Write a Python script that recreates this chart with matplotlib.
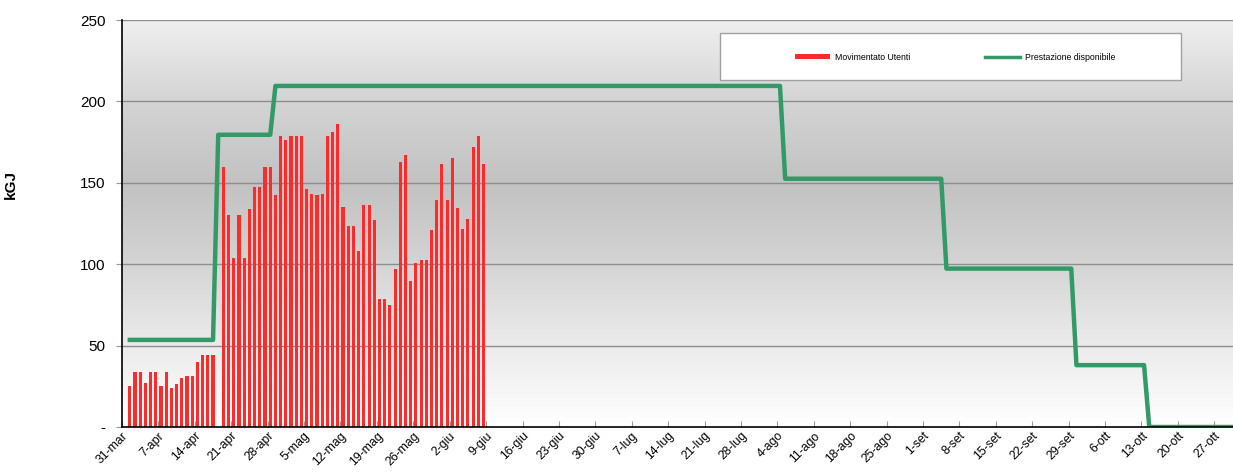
import matplotlib
matplotlib.use("Agg")
import matplotlib.pyplot as plt
from matplotlib.colors import LinearSegmentedColormap
from matplotlib.patches import Patch, Rectangle
from matplotlib.lines import Line2D
import numpy as np

plt.rcParams['font.family'] = ['Liberation Sans', 'DejaVu Sans']

# days counted from 31-mar (day 0)
week_labels = ['31-mar', '7-apr', '14-apr', '21-apr', '28-apr', '5-mag', '12-mag',
               '19-mag', '26-mag', '2-giu', '9-giu', '16-giu', '23-giu', '30-giu',
               '7-lug', '14-lug', '21-lug', '28-lug', '4-ago', '11-ago', '18-ago',
               '25-ago', '1-set', '8-set', '15-set', '22-set', '29-set', '6-ott',
               '13-ott', '20-ott', '27-ott']

# daily "Movimentato Utenti" from 1-apr (day 1) to 8-giu (day 69)
movimentato = [25, 34, 34, 27, 34, 34, 25, 34, 24, 26.5,
               30, 31.5, 31.5, 40, 44, 44, 44, 0, 160, 130,
               104, 130, 104, 134, 147.5, 147.5, 160, 160, 142.5, 178.5,
               176.5, 178.5, 178.5, 178.5, 146, 143, 142.5, 143, 179, 181.5,
               186, 135, 123.5, 123.5, 108, 136.5, 136.5, 127, 78.5, 78.5,
               75, 97, 163, 167, 89.5, 101, 102.5, 102.5, 121, 139.5,
               161.5, 139.5, 165.5, 134.5, 121.5, 128, 172, 179, 161.5]

# "Prestazione disponibile": first day of each level and its value
step_start = [1, 18, 29, 127, 158, 183, 197]
step_value = [53.5, 179.5, 209.5, 152.5, 97.3, 38, 0]
last_day = 213

bar_days = np.arange(1, len(movimentato) + 1)
step_ends = step_start[1:] + [last_day + 1]
prest = np.repeat(step_value, np.diff([step_start[0]] + step_ends))
prest_days = np.arange(step_start[0], last_day + 1)

fig = plt.figure(figsize=(12.33, 4.73), dpi=100)
ax = fig.add_axes([122 / 1233, 1 - 427 / 473, 1 - 122 / 1233, 407 / 473])

xmax = 213.6
# plot area gradient
cmap = LinearSegmentedColormap.from_list('bg', [
    (0.0, '#ffffff'), (0.2, '#ebebeb'), (0.45, '#cfcfcf'),
    (0.6, '#c2c2c2'), (0.8, '#d4d4d4'), (1.0, '#f0f0f0')])
grad = np.linspace(0, 1, 256).reshape(-1, 1)
ax.imshow(grad, cmap=cmap, aspect='auto', origin='lower',
          extent=[0, xmax, 0, 250], zorder=0)

for yv in [50, 100, 150, 200, 250]:
    ax.axhline(yv, color='#8e8e8e', lw=1, zorder=1)

ax.bar(bar_days + 0.5, movimentato, width=0.6, color='#ff2a2a', zorder=2)
ax.plot(prest_days + 0.5, prest, color='#339966', lw=3.2, zorder=3,
        solid_capstyle='projecting')

ax.set_xlim(0, xmax)
ax.set_ylim(0, 250)
ax.set_yticks([0, 50, 100, 150, 200, 250])
ax.set_yticklabels(['-', '50', '100', '150', '200', '250'], fontsize=11)
ax.set_xticks(np.arange(len(week_labels)) * 7)
ax.set_xticklabels(week_labels, rotation=45, ha='right', va='top',
                   rotation_mode='anchor', fontsize=8.8)
ax.tick_params(axis='x', direction='in', length=4, color='#999999', pad=2)
ax.tick_params(axis='y', direction='out', length=4, color='#999999', pad=8)

ax.set_ylabel('kGJ', fontsize=11, fontweight='bold')
ax.yaxis.set_label_coords(-0.094, 0.595)

for s in ['top', 'right']:
    ax.spines[s].set_visible(False)
ax.spines['left'].set_color('black')
ax.spines['bottom'].set_color('black')
ax.spines['left'].set_linewidth(1.2)
ax.spines['bottom'].set_linewidth(1.2)
ax.spines['left'].set_zorder(4)
ax.spines['bottom'].set_zorder(4)

# legend box
fig.patches.append(Rectangle((720 / 1233, 1 - 80 / 473), 461 / 1233, 47 / 473,
                             transform=fig.transFigure, facecolor='white',
                             edgecolor='#a0a0a0', lw=1, zorder=5))
handles = [Patch(facecolor='#ff2a2a', edgecolor='none'),
           Line2D([0], [0], color='#339966', lw=2.5)]
leg = fig.legend(handles, ['Movimentato Utenti', 'Prestazione disponibile'],
                 loc='center', bbox_to_anchor=(955 / 1233, 1 - 57 / 473),
                 ncol=2, frameon=False, fontsize=6.3, handlelength=4,
                 handleheight=0.6, handletextpad=0.6, columnspacing=8.5)
leg.set_zorder(6)

fig.savefig('out.png', dpi=100)
